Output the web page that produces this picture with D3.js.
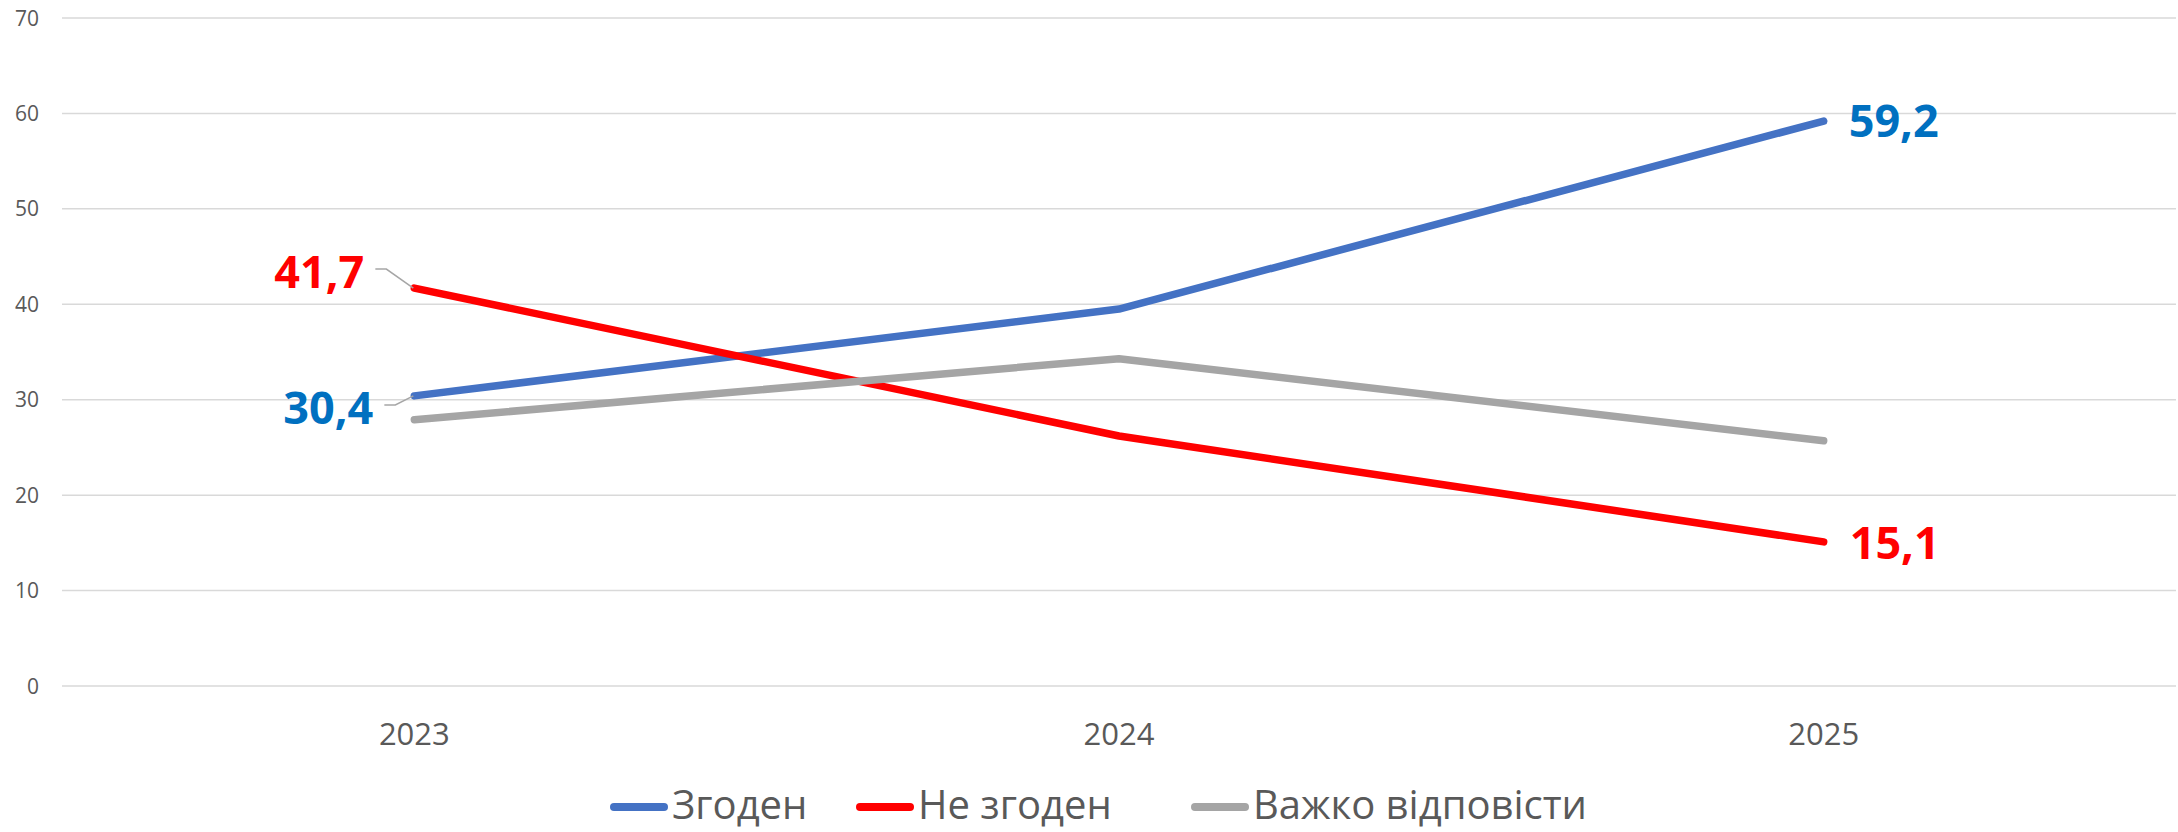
<!DOCTYPE html>
<html>
<head>
<meta charset="utf-8">
<script src="https://cdn.jsdelivr.net/npm/d3@7"></script>
<style>
  html, body { margin: 0; padding: 0; background: #fff; }
  svg { display: block; font-family: "Open Sans", sans-serif; }
</style>
</head>
<body>
<svg id="chart"></svg>
<script>
// data
const years = ["2023", "2024", "2025"];
const agree = [30.4, 39.5, 59.2];
const disagree = [41.7, 26.2, 15.1];
const hardToSay = [27.9, 34.3, 25.7];
const yTicks = [0, 10, 20, 30, 40, 50, 60, 70];

const series = [
    { name: "Згоден", values: agree, color: "#4472C4", labelColor: "#0070C0" },
    { name: "Не згоден", values: disagree, color: "#FF0000", labelColor: "#FF0000" },
    { name: "Важко відповісти", values: hardToSay, color: "#A5A5A5", labelColor: null }
];

// which points get a data label, and where it sits relative to the point
const labels = [
    { s: 0, i: 0, anchor: "end", dx: -41, dy: 12, leader: true },
    { s: 0, i: 2, anchor: "start", dx: 25, dy: 0 },
    { s: 1, i: 0, anchor: "end", dx: -50, dy: -16, leader: true },
    { s: 1, i: 2, anchor: "start", dx: 26, dy: 1 }
];

const width = 2178, height = 832;
const margin = { top: 18, right: 2, bottom: 146, left: 62 };

const svg = d3.select("#chart")
    .attr("width", width)
    .attr("height", height);

const x = d3.scalePoint()
    .domain(years)
    .range([margin.left, width - margin.right])
    .padding(0.5);

const y = d3.scaleLinear()
    .domain([0, 70])
    .range([height - margin.bottom, margin.top]);

// gridlines
svg.append("g")
    .selectAll("line")
    .data(yTicks)
    .join("line")
    .attr("x1", margin.left)
    .attr("x2", width - margin.right)
    .attr("y1", d => y(d))
    .attr("y2", d => y(d))
    .attr("stroke", "#D9D9D9")
    .attr("stroke-width", 1.5);

// y axis labels
svg.append("g")
    .attr("font-size", 21)
    .attr("fill", "#595959")
    .attr("text-anchor", "end")
    .selectAll("text")
    .data(yTicks)
    .join("text")
    .attr("x", 39)
    .attr("y", d => y(d) + 7.5)
    .text(d => d);

// x axis labels
svg.append("g")
    .attr("font-size", 31)
    .attr("fill", "#595959")
    .attr("text-anchor", "middle")
    .selectAll("text")
    .data(years)
    .join("text")
    .attr("x", d => x(d))
    .attr("y", 745)
    .text(d => d);

// lines
const line = d3.line()
    .x((d, i) => x(years[i]))
    .y(d => y(d));

svg.append("g")
    .selectAll("path")
    .data(series)
    .join("path")
    .attr("fill", "none")
    .attr("stroke", d => d.color)
    .attr("stroke-width", 7.5)
    .attr("stroke-linecap", "round")
    .attr("stroke-linejoin", "round")
    .attr("d", d => line(d.values));

// data labels with leader lines
const lab = svg.append("g");
labels.forEach(l => {
    const s = series[l.s];
    const px = x(years[l.i]), py = y(s.values[l.i]);
    const tx = px + l.dx, ty = py + l.dy;
    if (l.leader) {
        const lx = tx + 11;
        lab.append("path")
            .attr("d", `M${lx},${ty - 3}H${lx + 11}L${px - 1},${py}`)
            .attr("fill", "none")
            .attr("stroke", "#A6A6A6")
            .attr("stroke-width", 1.5);
    }
    lab.append("text")
        .attr("x", tx)
        .attr("y", ty + 16)
        .attr("text-anchor", l.anchor)
        .attr("font-size", 45)
        .attr("font-weight", "bold")
        .attr("fill", s.labelColor)
        .text(d3.format(".1f")(s.values[l.i]).replace(".", ","));
});

// legend
const legendX = [610, 856, 1191];
const legend = svg.append("g")
    .selectAll("g")
    .data(series)
    .join("g")
    .attr("transform", (d, i) => `translate(${legendX[i]},807)`);

legend.append("line")
    .attr("x1", 4).attr("x2", 54)
    .attr("stroke", d => d.color)
    .attr("stroke-width", 8)
    .attr("stroke-linecap", "round");

legend.append("text")
    .attr("x", 62)
    .attr("y", 12)
    .attr("font-size", 40)
    .attr("fill", "#595959")
    .text(d => d.name);
</script>
</body>
</html>
